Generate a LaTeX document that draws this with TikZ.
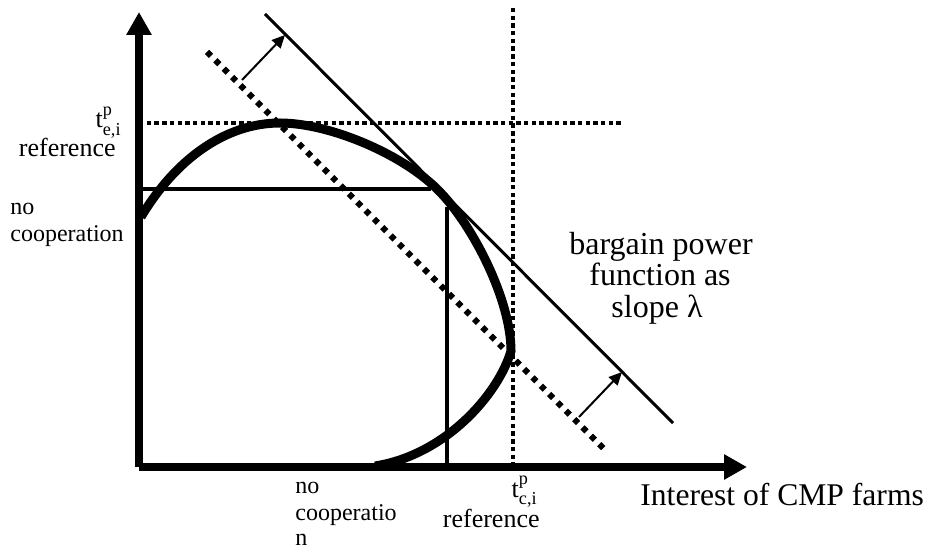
\documentclass[tikz,border=0pt]{standalone}
\usepackage{fontspec}
\setmainfont{Liberation Serif}
\usepackage{amsmath}
\usetikzlibrary{arrows.meta, positioning}

\begin{document}
\begin{tikzpicture}[
  x=0.5pt, y=-0.5pt,
  axis/.style={line width=4pt, -{Triangle[length=11.5pt, width=12pt]}},
  frontier/.style={line width=4.5pt},
  partline/.style={line width=2pt},
  tangent/.style={line width=1.5pt},
  refline/.style={line width=2.2pt, dash pattern=on 2.2pt off 1.65pt},
  slopeline/.style={line width=3pt, dash pattern=on 2.8pt off 3.1pt},
  shiftarrow/.style={line width=1pt, -{Triangle[length=6.5pt, width=6pt]}},
  lbl/.style={inner sep=0pt, font=\fontsize{12}{12}\selectfont},
  biglbl/.style={inner sep=0pt, font=\fontsize{16}{16}\selectfont}
]
  \useasboundingbox (0,0) rectangle (926,550);

  \coordinate (origin) at (139,467);
  \coordinate (ytip) at (139,12);
  \coordinate (xtip) at (747,467);
  \coordinate (yref) at (139,123);
  \coordinate (yrefend) at (622,123);
  \coordinate (xreftop) at (513,8);
  \coordinate (xref) at (513,467);
  \coordinate (slopestart) at (207,52);
  \coordinate (slopeend) at (607,452);
  \coordinate (tanstart) at (265,14);
  \coordinate (tanend) at (673,423);
  \coordinate (hstart) at (139,189);
  \coordinate (hend) at (431,189);
  \coordinate (vstart) at (447,207);
  \coordinate (vend) at (447,467);
  \coordinate (upfrom) at (242,80);
  \coordinate (upto) at (285,35);
  \coordinate (lowfrom) at (579,417);
  \coordinate (lowto) at (622,372);

  \draw[refline] (yref) -- (yrefend);
  \draw[refline] (xreftop) -- (xref);
  \draw[slopeline] (slopestart) -- (slopeend);
  \draw[tangent] (tanstart) -- (tanend);
  \draw[partline] (hstart) -- (hend);
  \draw[partline] (vstart) -- (vend);
  \draw[shiftarrow] (upfrom) -- (upto);
  \draw[shiftarrow] (lowfrom) -- (lowto);

  \draw[frontier] (141,217) .. controls (175,160) and (225,123) .. (280,123)
    .. controls (330,123) and (405,155) .. (440,192)
    .. controls (473,226) and (511,300) .. (511,351)
    .. controls (498,395) and (445,455) .. (375,466);

  \draw[axis] (origin) -- (ytip);
  \draw[axis] (origin) -- (xtip);

  \node[lbl, anchor=base east, font=\fontsize{13}{13}\selectfont] (tei) at (122,128) {t$^{\text{p}}_{\text{e,i}}$};
  \node[lbl, anchor=base east, font=\fontsize{13}{13}\selectfont] (refe) at (116,157) {reference};
  \node[lbl, anchor=base west] (nocoop1) at (10,215) {no};
  \node[lbl, anchor=base west] (nocoop2) at (10,242) {cooperation};

  \node[lbl, anchor=base east, font=\fontsize{13}{13}\selectfont] (tci) at (538,497) {t$^{\text{p}}_{\text{c,i}}$};
  \node[lbl, anchor=base east, font=\fontsize{13}{13}\selectfont] (refc) at (540,527) {reference};
  \node[lbl, anchor=base west] (nocoopx1) at (295,493) {no};
  \node[lbl, anchor=base west] (nocoopx2) at (295,520) {cooperatio};
  \node[lbl, anchor=base west] (nocoopx3) at (295,545) {n};

  \node[biglbl, anchor=base] (bargain1) at (661,255) {bargain power};
  \node[biglbl, anchor=base] (bargain2) at (660,286) {function as};
  \node[biglbl, anchor=base] (bargain3) at (657,318) {slope λ};
  \node[biglbl, anchor=base west, font=\fontsize{15.8}{16}\selectfont] (xlabel) at (640,505) {Interest of CMP farms};
\end{tikzpicture}
\end{document}
